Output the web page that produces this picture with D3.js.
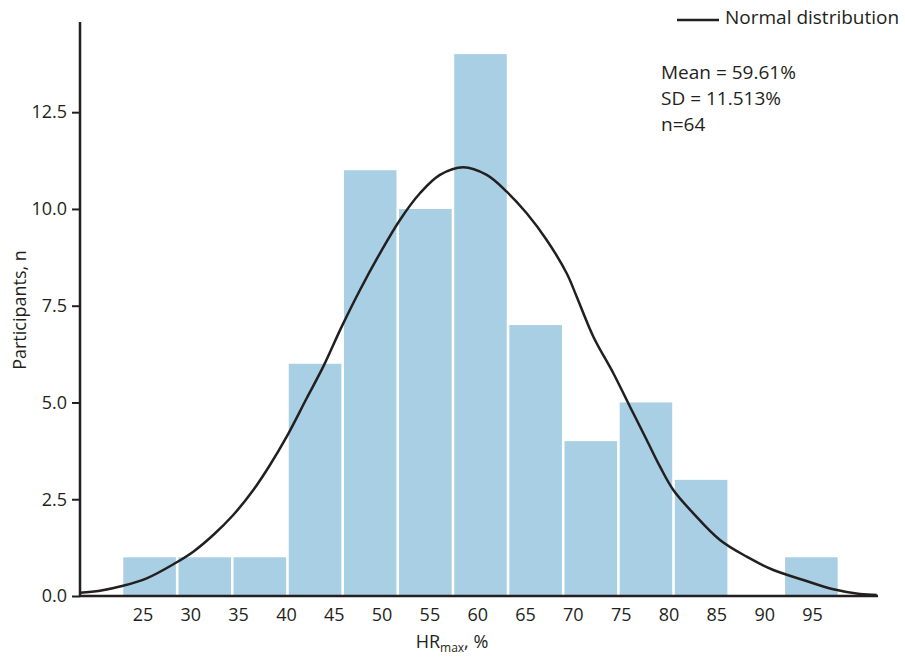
<!DOCTYPE html>
<html>
<head>
<meta charset="utf-8">
<script src="https://cdn.jsdelivr.net/npm/d3@7"></script>
<style>
  html, body { margin: 0; padding: 0; background: #fff; }
  svg { display: block; }
  text { font-family: "Open Sans", "Noto Sans", sans-serif; fill: #231f20; }
</style>
</head>
<body>
<svg id="chart" width="905" height="658"></svg>
<script>
// ---- Data ----
const binEdges = [22.86, 28.63, 34.39, 40.16, 45.93, 51.69, 57.46, 63.22, 68.99, 74.76, 80.52, 86.29, 92.05, 97.82];
const counts   = [1, 1, 1, 6, 11, 10, 14, 7, 4, 5, 3, 0, 1];
const xTickValues = [25, 30, 35, 40, 45, 50, 55, 60, 65, 70, 75, 80, 85, 90, 95];
const yTickValues = [0, 2.5, 5, 7.5, 10, 12.5];
// Normal-distribution curve, points
const curveX = [18.47, 20.56, 22.86, 25.44, 28.40, 30.31, 32.40, 34.49, 36.59, 38.33, 40.08, 42.17, 43.90, 45.83, 47.74, 49.83, 51.92, 54.01, 56.10, 58.54, 60.99, 63.08, 65.17, 67.26, 69.35, 70.40, 72.14, 74.23, 75.97, 77.72, 79.11, 80.50, 82.59, 85.38, 88.17, 90.96, 94.09, 97.23, 100.02, 101.77];
const curveY = [0.085, 0.137, 0.258, 0.457, 0.845, 1.145, 1.576, 2.093, 2.739, 3.385, 4.116, 5.108, 5.925, 6.959, 7.907, 8.855, 9.716, 10.405, 10.879, 11.077, 10.879, 10.447, 9.889, 9.199, 8.338, 7.734, 6.700, 5.755, 4.891, 4.031, 3.341, 2.739, 2.137, 1.447, 1.016, 0.672, 0.413, 0.173, 0.052, 0.026];
const statsLines = ["Mean = 59.61%", "SD = 11.513%", "n=64"];
const legendLabel = "Normal distribution";

// ---- Layout ----
const svg = d3.select("#chart");
const mLeft = 80, mRight = 878, mTop = 22, mBottom = 596;

const x = d3.scaleLinear().domain([18.47, 101.9]).range([mLeft, mRight]);
const y = d3.scaleLinear().domain([0, 14.83]).range([mBottom, mTop]);

const bins = counts.map((c, i) => ({ lo: binEdges[i], hi: binEdges[i + 1], c }));

// bars
svg.append("g").selectAll("rect").data(bins.filter(d => d.c > 0)).join("rect")
  .attr("x", d => x(d.lo) + 1.3)
  .attr("width", d => x(d.hi) - x(d.lo) - 2.6)
  .attr("y", d => y(d.c))
  .attr("height", d => y(0) - y(d.c))
  .attr("fill", "#a8cfe3");

// curve
const pts = curveX.map((v, i) => [v, curveY[i]]);
svg.append("path")
  .datum(pts)
  .attr("fill", "none")
  .attr("stroke", "#231f20")
  .attr("stroke-width", 2.5)
  .attr("d", d3.line().x(d => x(d[0])).y(d => y(d[1])).curve(d3.curveCatmullRom.alpha(0.5)));

// y axis
const yAxis = svg.append("g").attr("transform", `translate(${mLeft},0)`)
  .call(d3.axisLeft(y).tickValues(yTickValues).tickFormat(d3.format(".1f")).tickSize(8).tickPadding(5));
yAxis.select(".domain").attr("stroke", "#231f20").attr("stroke-width", 2.5)
  .attr("d", `M0,${mTop}V${mBottom}`);
yAxis.selectAll(".tick line").attr("stroke", "#231f20").attr("stroke-width", 2);
yAxis.selectAll(".tick text").style("font-size", "18px").attr("fill", "#231f20");

// x axis
const xAxis = svg.append("g").attr("transform", `translate(0,${mBottom})`)
  .call(d3.axisBottom(x).tickValues(xTickValues).tickSize(0).tickPadding(12));
xAxis.select(".domain").attr("stroke", "#231f20").attr("stroke-width", 2.5)
  .attr("d", `M${mLeft},0H${mRight}`);
xAxis.selectAll(".tick text").style("font-size", "18px").attr("fill", "#231f20");

// axis titles
svg.append("text")
  .attr("transform", `translate(26,${(mTop + mBottom) / 2 + 1}) rotate(-90)`)
  .attr("text-anchor", "middle")
  .style("font-size", "18px")
  .text("Participants, n");

const xt = svg.append("text")
  .attr("x", 452).attr("y", 648)
  .attr("text-anchor", "middle")
  .style("font-size", "18px");
xt.append("tspan").text("HR");
xt.append("tspan").attr("dy", 3.5).style("font-size", "12px").text("max");
xt.append("tspan").attr("dy", -3.5).text(", %");

// legend
svg.append("line")
  .attr("x1", 677).attr("x2", 719).attr("y1", 20).attr("y2", 20)
  .attr("stroke", "#231f20").attr("stroke-width", 2.5);
svg.append("text").attr("x", 725).attr("y", 24).style("font-size", "19px").text(legendLabel);

// stats
svg.append("g").selectAll("text").data(statsLines).join("text")
  .attr("x", 661).attr("y", (d, i) => 79 + i * 26)
  .style("font-size", "19px")
  .text(d => d);
</script>
</body>
</html>
